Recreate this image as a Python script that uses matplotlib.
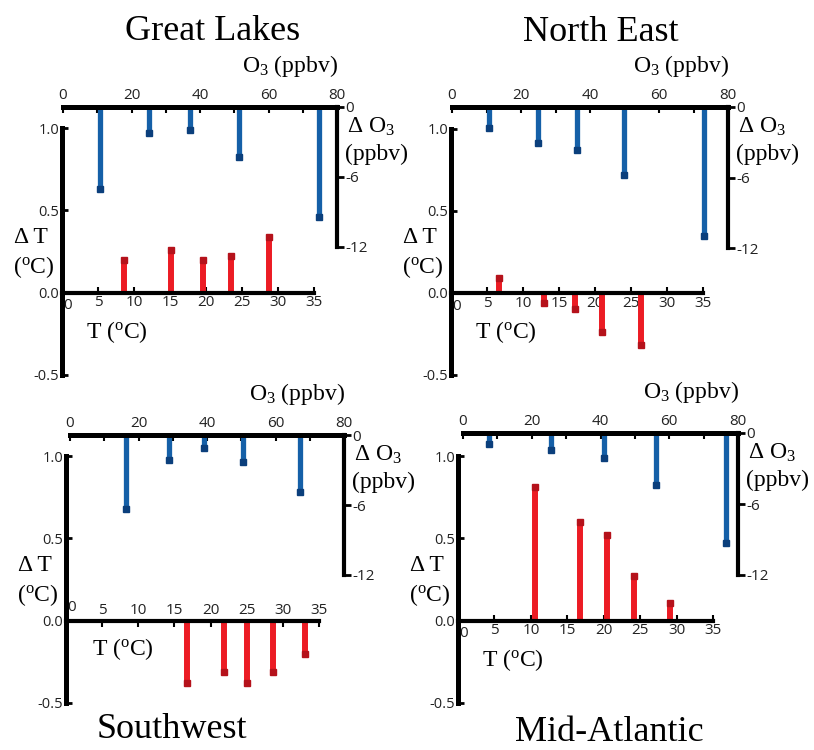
import matplotlib.pyplot as plt

# 数据：各区域 ΔT 与 ΔO3
regions = ['Great Lakes', 'North East', 'Southwest', 'Mid-Atlantic']

gl_t = [8.6, 15.1, 19.6, 23.5, 28.8]
gl_dt = [0.20, 0.26, 0.20, 0.22, 0.34]
gl_o3 = [10.8, 25.1, 37.1, 51.4, 74.8]
gl_do3 = [-7.0, -2.2, -2.0, -4.3, -9.4]

ne_t = [6.6, 12.9, 17.2, 21.0, 26.4]
ne_dt = [0.09, -0.06, -0.10, -0.24, -0.32]
ne_o3 = [10.6, 25.0, 36.1, 49.8, 73.0]
ne_do3 = [-1.8, -3.1, -3.7, -5.8, -11.0]

sw_t = [16.8, 21.9, 25.1, 28.6, 33.0]
sw_dt = [-0.38, -0.31, -0.38, -0.31, -0.20]
sw_o3 = [16.3, 28.9, 39.1, 50.5, 67.2]
sw_do3 = [-6.3, -2.1, -1.1, -2.3, -4.9]

ma_t = [10.6, 16.8, 20.5, 24.2, 29.1]
ma_dt = [0.81, 0.60, 0.52, 0.27, 0.11]
ma_o3 = [7.6, 25.6, 41.0, 56.1, 76.5]
ma_do3 = [-0.9, -1.4, -2.1, -4.4, -9.3]

t_ticks = [5, 10, 15, 20, 25, 30, 35]
dt_ticks = [-0.5, 0.0, 0.5, 1.0]
dt_labels = ['-0.5', '0.0', '0.5', '1.0']
o3_ticks = [0, 20, 40, 60, 80]
do3_ticks = [0, -6, -12]
do3_labels = ['0', '-6', '-12']

series = [(gl_t, gl_dt, gl_o3, gl_do3), (ne_t, ne_dt, ne_o3, ne_do3),
          (sw_t, sw_dt, sw_o3, sw_do3), (ma_t, ma_dt, ma_o3, ma_do3)]

# 版面（像素）：T 轴 (x0, x35, y1.0, y-0.5)，O3 轴 (x0, x80, y0, y-12)
layout = [
    dict(t=(62, 314, 128, 375), o=(63, 337, 107, 247), title=(213, 40), labels_top=False),
    dict(t=(451, 703, 129, 375), o=(452, 728, 107, 248), title=(601, 41), labels_top=False),
    dict(t=(66, 319, 456, 703), o=(70, 344, 435, 575), title=(172, 738), labels_top=True),
    dict(t=(458, 713, 456, 703), o=(463, 738, 433, 575), title=(609, 741), labels_top=False),
]

W, H = 814, 750
plt.rcParams['mathtext.fontset'] = 'custom'
plt.rcParams['mathtext.rm'] = 'Liberation Serif'
plt.rcParams['mathtext.it'] = 'Liberation Serif:italic'

SERIF = 'Liberation Serif'
SANS = 'Open Sans'
RED, RED_D = '#ec1c24', '#b5121b'
BLUE, BLUE_D = '#1560a8', '#0b3f7c'

fig = plt.figure(figsize=(W / 100, H / 100), dpi=100)


def rect(x0, x1, ytop, ybot):
    return [x0 / W, 1 - ybot / H, (x1 - x0) / W, (ybot - ytop) / H]


def ftext(px, py, s, **kw):
    fig.text(px / W, 1 - py / H, s, **kw)


for name, (t, dt, o3, do3), lay in zip(regions, series, layout):
    # ΔT - T 坐标轴
    tx0, tx1, ty1, tyb = lay['t']
    ax = fig.add_axes(rect(tx0, tx1, ty1, tyb))
    ax.set_facecolor('none')
    ax.set_xlim(0, 35)
    ax.set_ylim(-0.5, 1.0)
    ax.spines['right'].set_visible(False)
    ax.spines['left'].set_linewidth(3.6)
    ax.spines['left'].set_bounds(-0.5, 1.0)
    if lay['labels_top']:
        ax.spines['bottom'].set_visible(False)
        sp = ax.spines['top']
        ax.xaxis.set_ticks_position('top')
    else:
        ax.spines['top'].set_visible(False)
        sp = ax.spines['bottom']
    sp.set_position(('data', 0))
    sp.set_bounds(0, 35)
    sp.set_linewidth(3.0)
    ax.set_xticks(t_ticks)
    ax.set_yticks(dt_ticks, dt_labels)
    ax.tick_params(axis='x', direction='in', length=4, width=1.5, pad=2, labelsize=11)
    ax.tick_params(axis='y', direction='in', length=4, width=2, pad=2, labelsize=10.5)
    for lb in ax.get_xticklabels() + ax.get_yticklabels():
        lb.set_fontfamily(SANS)
        lb.set_color('#222222')
    # T 轴的 "0" 标签稍微右移，避开粗的纵轴
    if lay['labels_top']:
        ax.annotate('0', xy=(0, 0), xytext=(4, 4), textcoords='offset points',
                    ha='center', va='bottom', fontsize=11, family=SANS, color='#222222')
    else:
        ax.annotate('0', xy=(0, 0), xytext=(4, -4), textcoords='offset points',
                    ha='center', va='top', fontsize=11, family=SANS, color='#222222')
    ax.vlines(t, 0, dt, color=RED, lw=4.3, zorder=2)
    ax.plot(t, dt, 's', color=RED_D, ms=4.5, mec=RED_D, zorder=3, clip_on=False)

    # ΔO3 - O3 坐标轴
    ox0, ox1, oy0, oyb = lay['o']
    ax2 = fig.add_axes(rect(ox0, ox1, oy0, oyb))
    ax2.set_facecolor('none')
    ax2.set_xlim(0, 80)
    ax2.set_ylim(-12, 0)
    ax2.spines['left'].set_visible(False)
    ax2.spines['bottom'].set_visible(False)
    ax2.spines['top'].set_linewidth(3.6)
    ax2.spines['right'].set_linewidth(3.0)
    ax2.xaxis.set_ticks_position('top')
    ax2.yaxis.set_ticks_position('right')
    ax2.set_xticks(o3_ticks)
    ax2.set_xticks([10, 30, 50, 70], minor=True)
    ax2.set_yticks(do3_ticks, do3_labels)
    ax2.tick_params(axis='x', which='both', direction='in', length=4, width=1.5, pad=3, labelsize=11)
    ax2.tick_params(axis='y', direction='out', length=5, width=2, pad=1, labelsize=11)
    for lb in ax2.get_xticklabels() + ax2.get_yticklabels():
        lb.set_fontfamily(SANS)
        lb.set_color('#222222')
    ax2.vlines(o3, 0, do3, color=BLUE, lw=3.8, zorder=2)
    ax2.plot(o3, do3, 's', color=BLUE_D, ms=4, mec=BLUE_D, zorder=3, clip_on=False)

    # 文字标注
    zero_y = ty1 + (tyb - ty1) * (1.0 / 1.5)
    ftext(tx0 - 31, zero_y - 50, '\u0394 T', family=SERIF, fontsize=17, ha='center', va='baseline')
    ftext(tx0 - 28, zero_y - 20, '($^{\\mathrm{o}}$C)', family=SERIF, fontsize=17, ha='center', va='baseline')
    if lay['labels_top']:
        ftext(tx0 + 57, zero_y + 34, 'T ($^{\\mathrm{o}}$C)', family=SERIF, fontsize=17, ha='center', va='baseline')
    else:
        ftext(tx0 + 55, zero_y + 45, 'T ($^{\\mathrm{o}}$C)', family=SERIF, fontsize=17, ha='center', va='baseline')
    ftext(ox1 - 47, oy0 - 35, 'O$_3$ (ppbv)', family=SERIF, fontsize=17, ha='center', va='baseline')
    ftext(ox1 + 10, oy0 + 26, '\u0394 O$_3$', family=SERIF, fontsize=17, ha='left', va='baseline')
    ftext(ox1 + 8, oy0 + 53, '(ppbv)', family=SERIF, fontsize=17, ha='left', va='baseline')

    tx, ty = lay['title']
    ftext(tx, ty, name, family=SERIF, fontsize=26, ha='center', va='baseline')

fig.savefig('out.png', dpi=100, facecolor='white')
